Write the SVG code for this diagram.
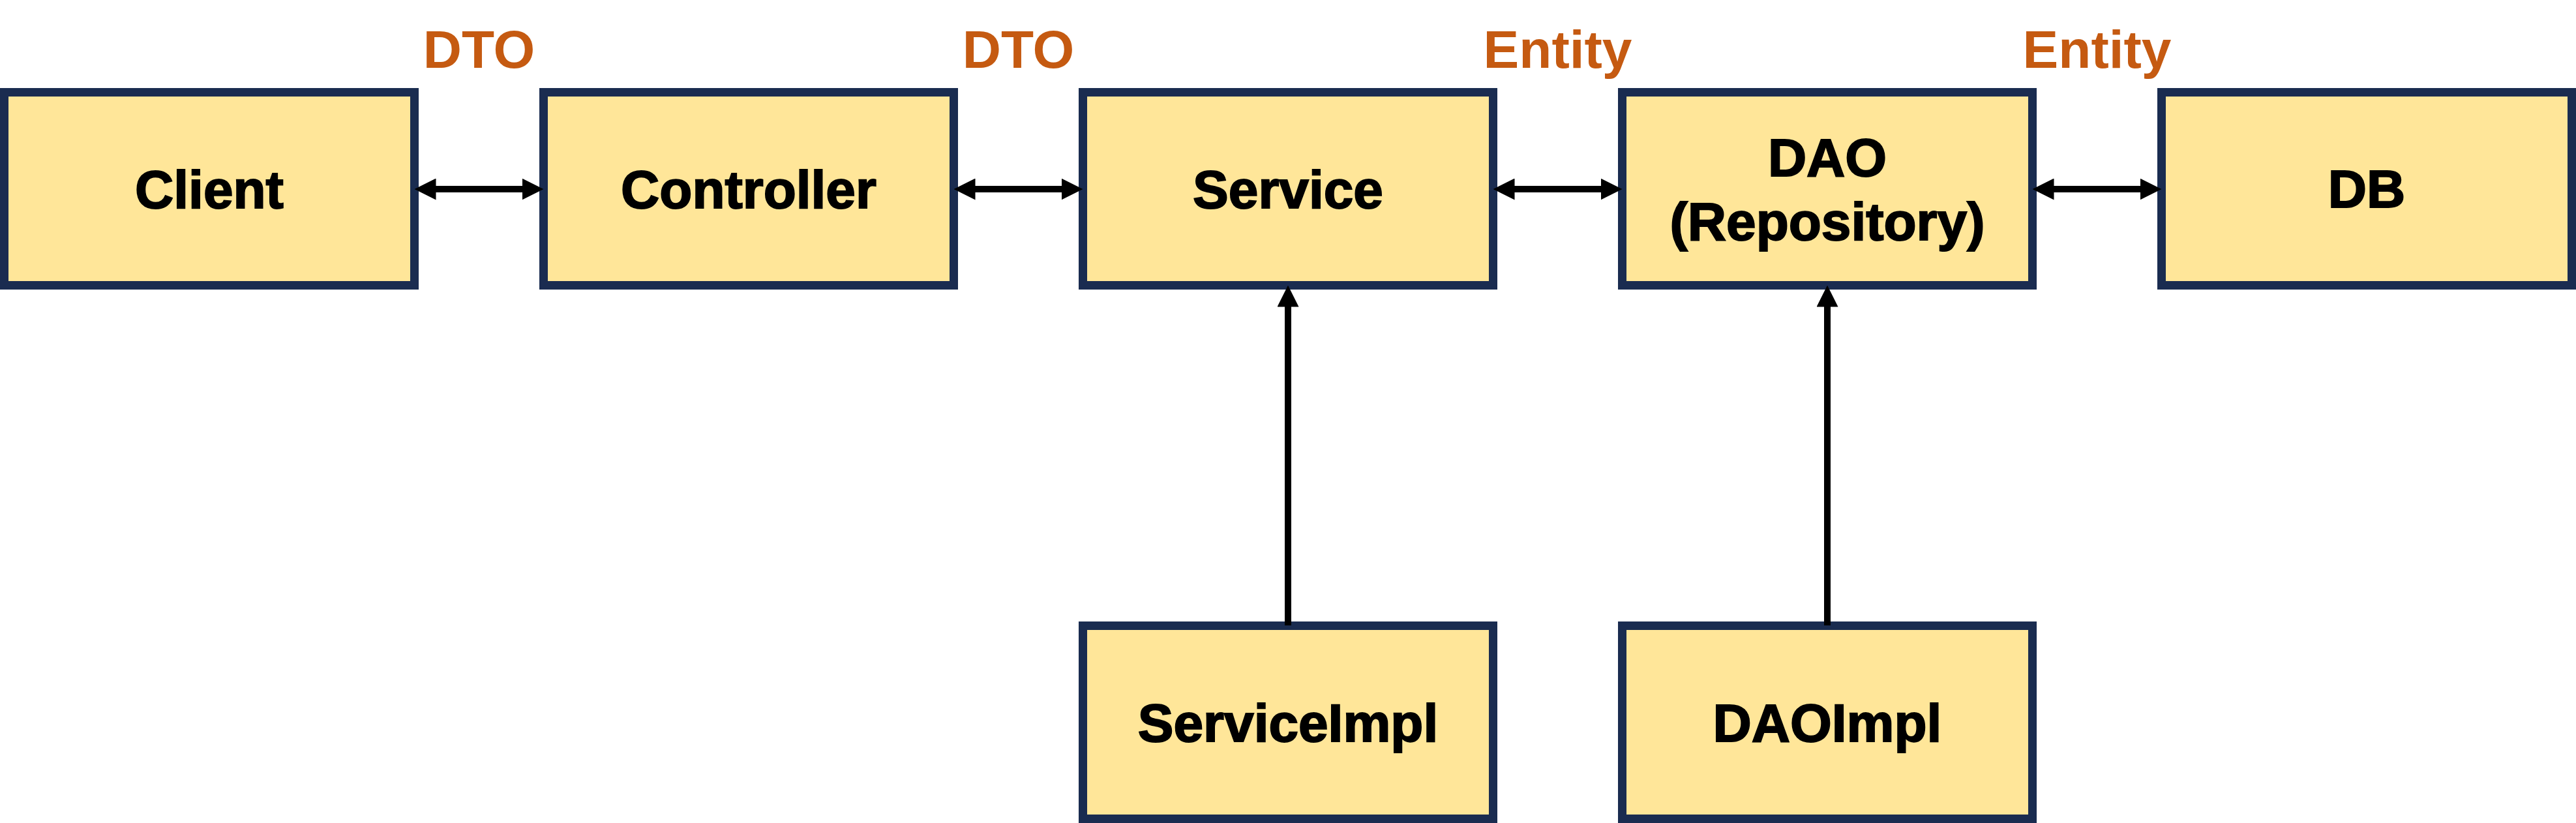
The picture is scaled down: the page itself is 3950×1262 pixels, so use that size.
<svg xmlns="http://www.w3.org/2000/svg" width="3950" height="1262" viewBox="0 0 3950 1262">
<style>
.box{fill:#FFE699;stroke:#1A2C50;stroke-width:13}
.t{font-family:"Liberation Sans",Arial,sans-serif;font-weight:bold;font-size:82px;fill:#000;stroke:#000;stroke-width:2;text-anchor:middle}
.lbl{font-family:"Liberation Sans",Arial,sans-serif;font-weight:bold;font-size:82px;fill:#C55A11;text-anchor:middle}
.c{stroke:#000;stroke-width:10;fill:none}
</style>
<defs>
<marker id="ah" markerUnits="userSpaceOnUse" markerWidth="33" markerHeight="33" refX="3" refY="16.5" orient="auto-start-reverse" viewBox="0 0 33 33">
<path d="M0,0 L33,16.5 L0,33 z" fill="#000"/>
</marker>
</defs>
<rect width="3950" height="1262" fill="#fff"/>
<g id="labels">
<text class="lbl" x="734.5" y="104">DTO</text>
<text class="lbl" x="1561.5" y="104">DTO</text>
<text class="lbl" x="2388.5" y="104">Entity</text>
<text class="lbl" x="3215.5" y="104">Entity</text>
</g>
<g id="client"><rect class="box" x="6.5" y="141.5" width="629" height="296"/><text class="t" x="321" y="319">Client</text></g>
<g id="controller"><rect class="box" x="833.5" y="141.5" width="629" height="296"/><text class="t" x="1148" y="319">Controller</text></g>
<g id="service"><rect class="box" x="1660.5" y="141.5" width="629" height="296"/><text class="t" x="1975" y="319">Service</text></g>
<g id="dao"><rect class="box" x="2487.5" y="141.5" width="629" height="296"/><text class="t" x="2802" y="270">DAO</text><text class="t" x="2802" y="368">(Repository)</text></g>
<g id="db"><rect class="box" x="3314.5" y="141.5" width="629" height="296"/><text class="t" x="3629" y="318">DB</text></g>
<g id="serviceimpl"><rect class="box" x="1660.5" y="959.5" width="629" height="296"/><text class="t" x="1975" y="1137">ServiceImpl</text></g>
<g id="daoimpl"><rect class="box" x="2487.5" y="959.5" width="629" height="296"/><text class="t" x="2802" y="1137">DAOImpl</text></g>
<g id="connectors">
<line class="c" x1="665.5" y1="290" x2="803.5" y2="290" marker-start="url(#ah)" marker-end="url(#ah)"/>
<line class="c" x1="1492.5" y1="290" x2="1630.5" y2="290" marker-start="url(#ah)" marker-end="url(#ah)"/>
<line class="c" x1="2319.5" y1="290" x2="2457.5" y2="290" marker-start="url(#ah)" marker-end="url(#ah)"/>
<line class="c" x1="3146.5" y1="290" x2="3284.5" y2="290" marker-start="url(#ah)" marker-end="url(#ah)"/>
<line class="c" x1="1975" y1="959" x2="1975" y2="467.5" marker-end="url(#ah)"/>
<line class="c" x1="2802" y1="959" x2="2802" y2="467.5" marker-end="url(#ah)"/>
</g>
</svg>
